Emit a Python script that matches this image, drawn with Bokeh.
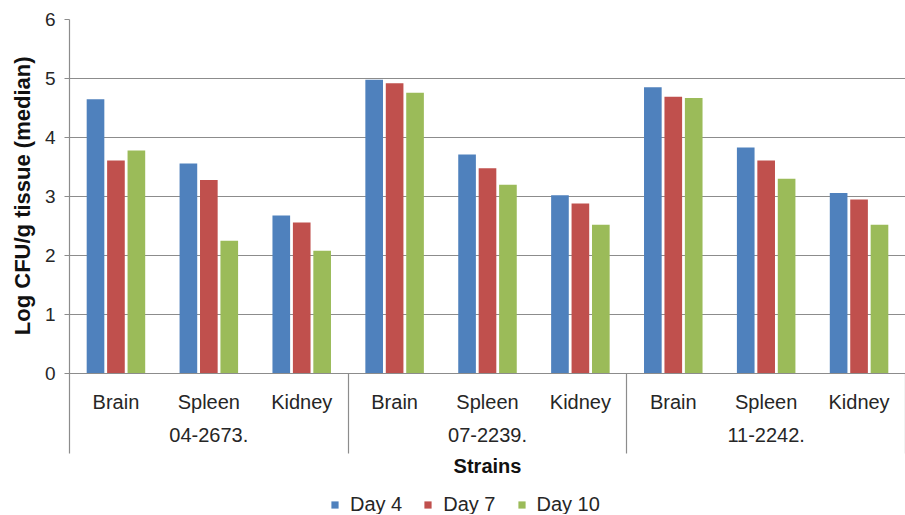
from bokeh.plotting import figure
from bokeh.models import (FactorRange, FixedTicker, ColumnDataSource, Legend, LegendItem,
                          LinearAxis, Range1d)
from bokeh.transform import dodge
from bokeh.embed import file_html
from bokeh.resources import INLINE

strains = ["04-2673.", "07-2239.", "11-2242."]
organs = ["Brain", "Spleen", "Kidney"]
days = ["Day 4", "Day 7", "Day 10"]
day4 = [4.65, 3.56, 2.68, 4.98, 3.71, 3.02, 4.85, 3.83, 3.06]
day7 = [3.61, 3.28, 2.56, 4.92, 3.48, 2.88, 4.69, 3.61, 2.95]
day10 = [3.78, 2.25, 2.08, 4.76, 3.20, 2.52, 4.67, 3.30, 2.52]
y_ticks = [0, 1, 2, 3, 4, 5, 6]
y_title = "Log CFU/g tissue (median)"
x_title = "Strains"

colors = ["#4F81BD", "#C0504D", "#9BBB59"]
FONT = "Liberation Sans"
GRID = "#8c8c8c"
Y_BOTTOM = -2.39      # extra room below 0 for the category labels
SEP_BOTTOM = -1.36    # depth of the axis separator lines

factors = [(s, o) for s in strains for o in organs]
source = ColumnDataSource(dict(x=factors, d4=day4, d7=day7, d10=day10))

xr = FactorRange(factors=factors, range_padding=0, group_padding=0, factor_padding=0)
p = figure(x_range=xr, y_range=Range1d(Y_BOTTOM, y_ticks[-1]), frame_width=836, frame_height=495,
           output_backend="svg", toolbar_location=None, title=y_title, title_location="left",
           min_border_left=68, min_border_right=1, min_border_top=19, min_border_bottom=0)
p.outline_line_color = None
p.background_fill_color = "white"

# y axis title (as a left-side title so it can sit on the 0..6 span)
p.title.align = "right"
p.title.offset = 37
p.title.text_font = FONT
p.title.text_font_style = "bold"
p.title.text_font_size = "22px"
p.title.text_color = "#111111"
p.title.standoff = 14

renderers = []
for col, off, c in zip(["d4", "d7", "d10"], [-0.22, 0.0, 0.22], colors):
    r = p.vbar(x=dodge("x", off, range=p.x_range), top=col, bottom=0, width=0.19, source=source,
               fill_color=c, line_color=None)
    renderers.append(r)

# y axis
ya = p.yaxis[0]
ya.ticker = FixedTicker(ticks=y_ticks)
ya.bounds = (SEP_BOTTOM, y_ticks[-1])
ya.major_label_text_font = FONT
ya.major_label_text_font_size = "19px"
ya.major_label_text_color = "#262626"
ya.major_label_standoff = 9
ya.major_tick_in = 0
ya.major_tick_out = 5
ya.minor_tick_line_color = None
ya.major_tick_line_color = GRID
ya.axis_line_color = GRID
ya.axis_line_width = 1.2

p.ygrid.grid_line_color = GRID
p.ygrid.grid_line_width = 1.2
p.xgrid.grid_line_color = None

# strain separator lines (between strain groups and at the right end), below the axis
for k in range(1, len(strains) + 1):
    sep = LinearAxis(fixed_location=k * len(organs), bounds=(SEP_BOTTOM, 0),
                     ticker=FixedTicker(ticks=[]), major_label_text_font_size="0px",
                     major_tick_line_color=None, minor_tick_line_color=None,
                     axis_line_color=GRID, axis_line_width=1.2)
    p.add_layout(sep, "right")

# x axis (categorical, pinned at y = 0)
xa = p.xaxis[0]
xa.fixed_location = 0
xa.major_tick_line_color = None
xa.axis_line_color = GRID
xa.axis_line_width = 1.2
xa.major_label_text_font = FONT
xa.major_label_text_font_size = "20px"
xa.major_label_text_color = "#262626"
xa.major_label_standoff = 12
xa.group_text_font = FONT
xa.group_text_font_size = "20px"
xa.group_text_color = "#262626"
xa.group_text_font_style = "normal"
xa.separator_line_color = None
xa.axis_label = x_title
xa.axis_label_text_font = FONT
xa.axis_label_text_font_style = "bold"
xa.axis_label_text_font_size = "20px"
xa.axis_label_text_color = "#111111"
xa.axis_label_standoff = 9

legend = Legend(items=[LegendItem(label=d, renderers=[r]) for d, r in zip(days, renderers)],
                orientation="horizontal", location=(261, -2))
legend.label_text_font = FONT
legend.label_text_font_size = "20px"
legend.label_text_color = "#262626"
legend.glyph_width = 9
legend.glyph_height = 9
legend.label_standoff = 11
legend.spacing = 21
legend.padding = 2
legend.margin = 0
legend.border_line_color = None
legend.background_fill_alpha = 0
p.add_layout(legend, "center")

open("out.html", "w").write(file_html(p, INLINE))
